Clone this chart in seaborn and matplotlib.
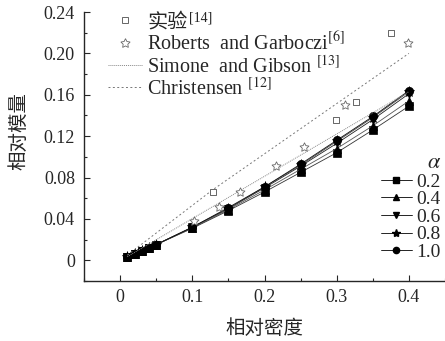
import matplotlib
matplotlib.use("Agg")
import matplotlib.pyplot as plt
import seaborn as sns
import pandas as pd
from matplotlib.lines import Line2D
from matplotlib.ticker import MultipleLocator

# ---------------- data ----------------
rho = [0.01, 0.02, 0.03, 0.04, 0.05, 0.10, 0.15, 0.20, 0.25, 0.30, 0.35, 0.40]
alphas = ["0.2", "0.4", "0.6", "0.8", "1.0"]
E_a02 = [0.003, 0.006, 0.009, 0.0123, 0.0152, 0.031, 0.048, 0.066, 0.085, 0.104, 0.126, 0.149]
E_a04 = [0.003, 0.006, 0.009, 0.0123, 0.0152, 0.031, 0.049, 0.068, 0.088, 0.108, 0.130, 0.154]
E_a06 = [0.003, 0.006, 0.009, 0.0123, 0.0152, 0.032, 0.050, 0.070, 0.091, 0.113, 0.136, 0.161]
E_a08 = [0.003, 0.006, 0.009, 0.0123, 0.0152, 0.032, 0.050, 0.071, 0.092, 0.115, 0.138, 0.163]
E_a10 = [0.003, 0.006, 0.009, 0.0123, 0.0152, 0.032, 0.051, 0.071, 0.093, 0.116, 0.139, 0.164]

exp_x = [0.128, 0.299, 0.327, 0.375]
exp_y = [0.066, 0.136, 0.153, 0.220]

rg_x = [0.103, 0.137, 0.166, 0.216, 0.255, 0.312, 0.399]
rg_y = [0.038, 0.052, 0.066, 0.091, 0.110, 0.150, 0.210]

sg_x = [0.01, 0.40]
sg_y = [0.0035, 0.163]

ch_x = [0.01, 0.128, 0.40]
ch_y = [0.005, 0.068, 0.200]

xticks = [0, 0.1, 0.2, 0.3, 0.4]
yticks = [0, 0.04, 0.08, 0.12, 0.16, 0.20, 0.24]
ytick_labels = ["0", "0.04", "0.08", "0.12", "0.16", "0.20", "0.24"]
xtick_labels = ["0", "0.1", "0.2", "0.3", "0.4"]

legend_labels = ["实验", "Roberts  and Garboczi$^{[6]}$", "Simone  and Gibson $^{[13]}$",
                 "Christensen $^{[12]}$"]
exp_ref = "[14]"

# ---------------- style ----------------
sns.set_style("ticks")
plt.rcParams['font.family'] = ['Liberation Serif', 'Noto Sans CJK SC']
plt.rcParams['mathtext.fontset'] = 'stix'
plt.rcParams['font.size'] = 13

W, H = 445, 341
fig = plt.figure(figsize=(W / 100, H / 100), dpi=100)
ax = fig.add_axes([84 / W, (H - 281) / H, (W - 84) / W, (281 - 12) / H])

series = [E_a02, E_a04, E_a06, E_a08, E_a10]
markers = ["s", "^", "v", "*", "o"]
lcolors = ["#333333", "#555555", "#222222", "#444444", "#111111"]
frames = []
for a, ys in zip(alphas, series):
    frames.append(pd.DataFrame({"rho": rho, "E": ys, "alpha": a}))
df = pd.concat(frames, ignore_index=True)

for a, m, c in zip(alphas, markers, lcolors):
    sub = df[df["alpha"] == a]
    sns.lineplot(data=sub, x="rho", y="E", ax=ax, color=c, lw=0.6,
                 marker=m, markersize=6 if m != "*" else 8,
                 markerfacecolor="black", markeredgecolor="black",
                 markeredgewidth=0.5, legend=False)

# Simone and Gibson (fine dotted)
sns.lineplot(x=sg_x, y=sg_y, ax=ax, color="#888888", lw=0.7, linestyle=(0, (1, 1)), legend=False)
# Christensen (dashed)
sns.lineplot(x=ch_x, y=ch_y, ax=ax, color="#777777", lw=0.7, linestyle=(0, (2, 2.5)), legend=False)

sns.scatterplot(x=exp_x, y=exp_y, ax=ax, marker="s", s=24, facecolor="white",
                edgecolor="#666666", linewidth=0.7, legend=False, zorder=5)
sns.scatterplot(x=rg_x, y=rg_y, ax=ax, marker=(5, 1, 0), s=45, facecolor="white",
                edgecolor="#666666", linewidth=0.6, legend=False, zorder=5)

ax.set_xlim(-0.05, 0.45)
ax.set_ylim(-0.02, 0.24)
ax.set_xticks(xticks)
ax.set_xticklabels(xtick_labels)
ax.set_yticks(yticks)
ax.set_yticklabels(ytick_labels)
ax.xaxis.set_minor_locator(MultipleLocator(0.05))
ax.yaxis.set_minor_locator(MultipleLocator(0.02))
ax.tick_params(which="both", direction="in", width=0.8)
ax.tick_params(which="major", length=4, labelsize=13)
ax.tick_params(axis="y", which="major", pad=6.5)
ax.tick_params(axis="x", which="major", pad=6)
ax.tick_params(which="minor", length=2.5)
sns.despine(ax=ax)
for s in ["left", "bottom"]:
    ax.spines[s].set_linewidth(1.0)

ax.set_xlabel("相对密度", fontsize=14, family=['Noto Sans CJK SC'])
ax.set_ylabel("相对模量", fontsize=14, family=['Noto Sans CJK SC'])
ax.xaxis.set_label_coords(0.5, -(328 - 281) / 269, transform=ax.transAxes)
ax.yaxis.set_label_coords((19 - 84) / 361, (281 - 131) / 269, transform=ax.transAxes)
ax.xaxis.label.set_va("center")
ax.yaxis.label.set_va("center")

# legend 1
h1 = [
    Line2D([], [], ls="none", marker="s", ms=5, mfc="white", mec="#666666", mew=0.7),
    Line2D([], [], ls="none", marker=(5, 1, 0), ms=7, mfc="white", mec="#666666", mew=0.6),
    Line2D([], [], color="#888888", lw=0.7, ls=(0, (1, 1))),
    Line2D([], [], color="#777777", lw=0.7, ls=(0, (2, 2.5))),
]
leg1 = fig.legend(h1, legend_labels, loc="upper left", bbox_to_anchor=(108 / W, (H - 13) / H),
                  frameon=False, fontsize=14.5, handlelength=1.7, handletextpad=0.25,
                  labelspacing=0.0, borderaxespad=0.0, borderpad=0.0)

# legend 2 (alpha)
h2 = [Line2D([], [], color="black", lw=0.6, marker=m, ms=4.5 if m != "*" else 6,
             mfc="black", mec="black") for m in markers]
leg2 = fig.legend(h2, alphas, loc="upper right", bbox_to_anchor=(441 / W, (H - 154) / H),
                  frameon=False, fontsize=14, handlelength=1.6, handletextpad=0.25,
                  labelspacing=0.0, borderaxespad=0.0, borderpad=0.0,
                  title=r"$\alpha$", title_fontsize=16)
leg2._legend_box.align = "right"

# superscript reference for the Chinese label
fig.canvas.draw()
t0 = leg1.get_texts()[0]
bb = t0.get_window_extent(fig.canvas.get_renderer())
fig.text((bb.x1 + 1) / W, (bb.y1 + 2) / H, exp_ref, fontsize=10,
         family=['Liberation Serif'], ha="left", va="top")

fig.savefig("out.png", dpi=100)
